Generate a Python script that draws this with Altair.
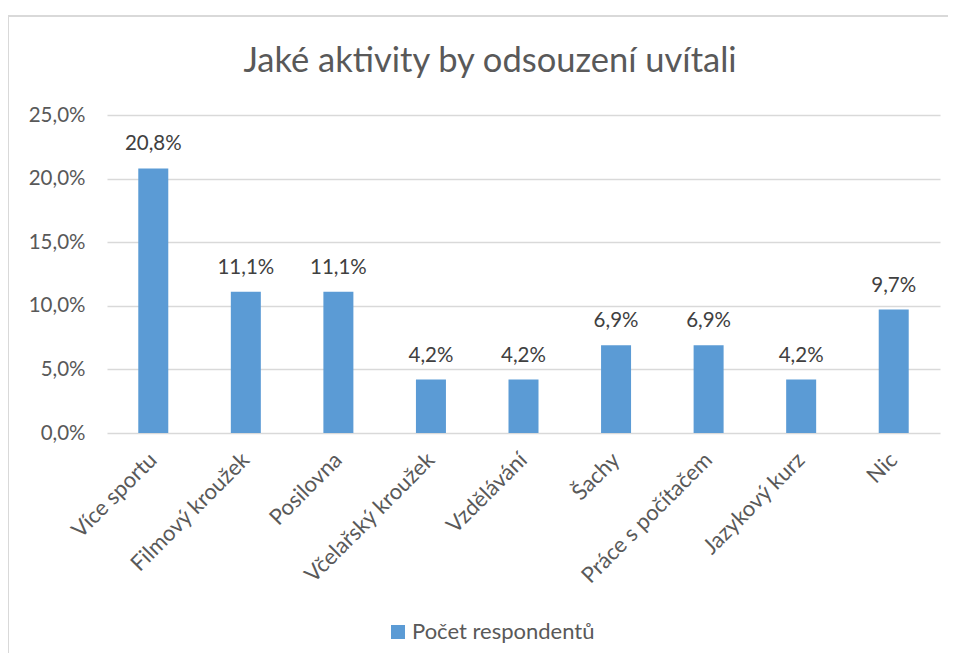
import altair as alt
import pandas as pd

categories = ["Více sportu", "Filmový kroužek", "Posilovna", "Včelařský kroužek",
              "Vzdělávání", "Šachy", "Práce s počítačem", "Jazykový kurz", "Nic"]
values = [0.208, 0.111, 0.111, 0.042, 0.042, 0.069, 0.069, 0.042, 0.097]
series_name = "Počet respondentů"
title_text = "Jaké aktivity by odsouzení uvítali"

df = pd.DataFrame({"kategorie": categories, "hodnota": values, "serie": series_name})
title_df = pd.DataFrame({"t": [title_text]})

FONT = "Lato"
GRAY = "#595959"

x_enc = alt.X("kategorie:N", sort=categories, title=None,
              scale=alt.Scale(paddingInner=0.0, paddingOuter=0.0),
              axis=alt.Axis(labelAngle=-45, labelAlign="right", labelBaseline="middle",
                            labelFontSize=22, labelColor=GRAY, labelFont=FONT,
                            ticks=False, domain=False, labelPadding=23))
y_enc = alt.Y("hodnota:Q", title=None,
              scale=alt.Scale(domain=[0, 0.25], nice=False),
              axis=alt.Axis(values=[0, 0.05, 0.10, 0.15, 0.20, 0.25],
                            labelExpr="replace(format(datum.value, '.1%'), '.', ',')",
                            labelFontSize=20.5, labelColor=GRAY, labelFont=FONT,
                            ticks=False, domain=False, gridColor="#d9d9d9",
                            gridWidth=1.3, labelPadding=22))

bars = alt.Chart(df).mark_bar(size=30, color="#5B9BD5").encode(
    x=x_enc, y=y_enc,
    color=alt.Color("serie:N", scale=alt.Scale(range=["#5B9BD5"]), title=None,
                    legend=alt.Legend(orient="none", legendX=280, legendY=506,
                                      symbolType="square", symbolSize=196,
                                      symbolStrokeWidth=0, labelOffset=3,
                                      labelFontSize=22, labelColor=GRAY, labelFont=FONT,
                                      labelLimit=400)),
)

labels = alt.Chart(df).transform_calculate(
    lbl="replace(format(datum.hodnota, '.1%'), '.', ',')"
).mark_text(baseline="alphabetic", dy=-18, fontSize=20.5, color="#404040", font=FONT).encode(
    x=alt.X("kategorie:N", sort=categories),
    y="hodnota:Q",
    text="lbl:N",
)

title_mark = alt.Chart(title_df).mark_text(
    baseline="alphabetic", align="center", fontSize=34.5, color=GRAY, font=FONT
).encode(text="t:N", x=alt.value(383), y=alt.value(-43))

# outer chart frame lines (top and left)
frame_top = alt.Chart(title_df).mark_rule(color="#d9d9d9", strokeWidth=2).encode(
    x=alt.value(-99), x2=alt.value(850), y=alt.value(-99))
frame_left = alt.Chart(title_df).mark_rule(color="#d9d9d9", strokeWidth=2).encode(
    x=alt.value(-99), y=alt.value(-99), y2=alt.value(540))

chart = alt.layer(frame_top, frame_left, bars, labels, title_mark).properties(
    width=833, height=318,
    padding={"left": 99, "top": 107, "right": 8, "bottom": 220},
    autosize=alt.AutoSizeParams(type="none"),
).configure_view(stroke=None)

chart.save("out.html", embed_options={"renderer": "svg", "actions": False})
